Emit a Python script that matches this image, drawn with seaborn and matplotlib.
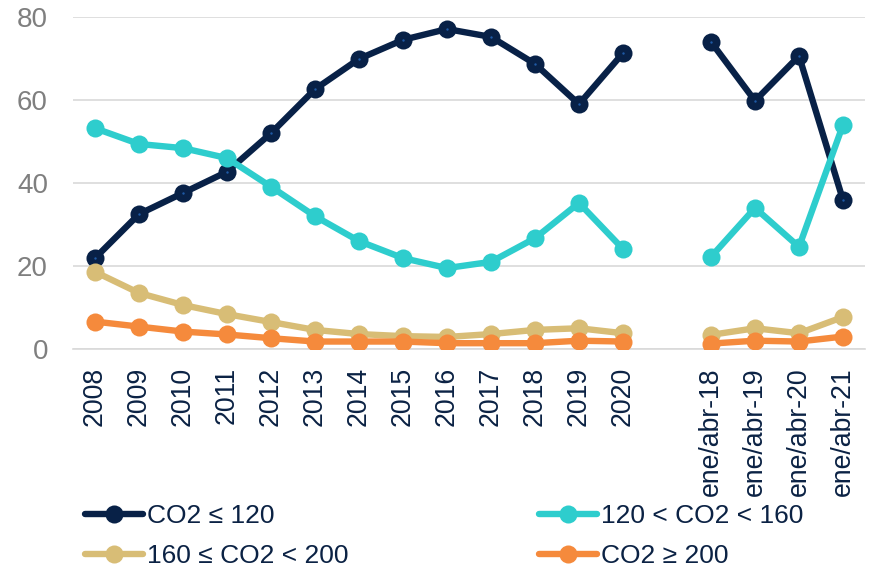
import numpy as np
import pandas as pd
import matplotlib
matplotlib.use("Agg")
import matplotlib.pyplot as plt
from matplotlib.lines import Line2D
import seaborn as sns

# Category axis: yearly values, an empty slot, then January-April values
categories = ["2008", "2009", "2010", "2011", "2012", "2013", "2014", "2015",
              "2016", "2017", "2018", "2019", "2020", "",
              "ene/abr-18", "ene/abr-19", "ene/abr-20", "ene/abr-21"]

series_names = ["CO2 ≤ 120", "120 < CO2 < 160", "160 ≤ CO2 < 200", "CO2 ≥ 200"]

co2_le_120 = [21.9, 32.5, 37.6, 42.7, 52.0, 62.6, 69.9, 74.5, 77.1, 75.2, 68.7, 59.0, 71.3,
              None, 74.0, 59.8, 70.6, 35.9]
co2_120_160 = [53.2, 49.4, 48.4, 46.0, 39.1, 32.0, 26.0, 21.9, 19.5, 21.0, 26.7, 35.2, 24.1,
               None, 22.2, 34.0, 24.6, 54.0]
co2_160_200 = [18.6, 13.5, 10.6, 8.4, 6.5, 4.6, 3.6, 3.1, 2.9, 3.6, 4.6, 5.0, 3.8,
               None, 3.4, 5.0, 3.8, 7.7]
co2_ge_200 = [6.6, 5.4, 4.2, 3.5, 2.6, 1.8, 1.8, 1.8, 1.4, 1.4, 1.4, 2.0, 1.8,
              None, 1.3, 2.0, 1.8, 3.0]

colors = ["#082147", "#2ECDCD", "#D8BD76", "#F58A3C"]
text_navy = "#0B2244"
grid_grey = "#D9D9D9"

# Long-form table; "segment" separates the yearly block from the monthly block
rows = []
for name, vals in zip(series_names, [co2_le_120, co2_120_160, co2_160_200, co2_ge_200]):
    seg = 0
    for i, (cat, v) in enumerate(zip(categories, vals)):
        if v is None:
            seg = 1
            continue
        rows.append({"pos": i, "value": v, "serie": name, "segment": seg})
df = pd.DataFrame(rows)

sns.set_theme(style="white")
plt.rcParams["font.family"] = ["Liberation Sans", "DejaVu Sans"]

fig = plt.figure(figsize=(8.73, 5.67), dpi=100)
ax = fig.add_axes([73 / 873, 1 - 349 / 567, 792 / 873, 332 / 567])

palette = dict(zip(series_names, colors))
sns.lineplot(data=df, x="pos", y="value", hue="serie", units="segment",
             estimator=None, palette=palette, hue_order=series_names,
             linewidth=4.6, marker="o", markersize=13, markeredgewidth=0,
             legend=False, ax=ax, zorder=3)

# small highlight in the centre of the dark markers
dark = df[df["serie"] == series_names[0]]
ax.scatter(dark["pos"], dark["value"], s=3, color="#1F5AA6", zorder=5, linewidths=0)

ax.set_xlim(-0.5, len(categories) - 0.5)
ax.set_ylim(0, 80)
ax.set_yticks([0, 20, 40, 60, 80])
ax.set_xticks(range(len(categories)))
ax.set_xticklabels(categories, rotation=90, color=text_navy, fontsize=19.2)
ax.set_xticks(np.arange(-0.5, len(categories), 1), minor=True)
ax.tick_params(axis="x", which="major", length=0, pad=13)
ax.tick_params(axis="x", which="minor", length=5, width=1, color=grid_grey, direction="out")
ax.tick_params(axis="y", length=0, pad=18, labelsize=20, labelcolor="#7F7F7F")
ax.set_xlabel("")
ax.set_ylabel("")

ax.yaxis.grid(True, color=grid_grey, linewidth=1.2, zorder=0)
ax.xaxis.grid(False)
for side in ["left", "right", "top"]:
    ax.spines[side].set_visible(False)
ax.spines["bottom"].set_color(grid_grey)
ax.spines["bottom"].set_linewidth(1.2)
ax.set_axisbelow(True)

handles = [Line2D([], [], color=c, linewidth=4.6, marker="o", markersize=13,
                  markeredgewidth=0) for c in colors]
order = [0, 2, 1, 3]
leg = fig.legend([handles[i] for i in order], [series_names[i] for i in order],
                 ncol=2, loc="center left", bbox_to_anchor=(85 / 873, 1 - 536 / 567),
                 frameon=False, fontsize=19, handlelength=2.2, handletextpad=0.15,
                 labelspacing=0.6, columnspacing=7.2, borderaxespad=0, borderpad=0)
for t in leg.get_texts():
    t.set_color(text_navy)

fig.savefig("out.png", dpi=100)
